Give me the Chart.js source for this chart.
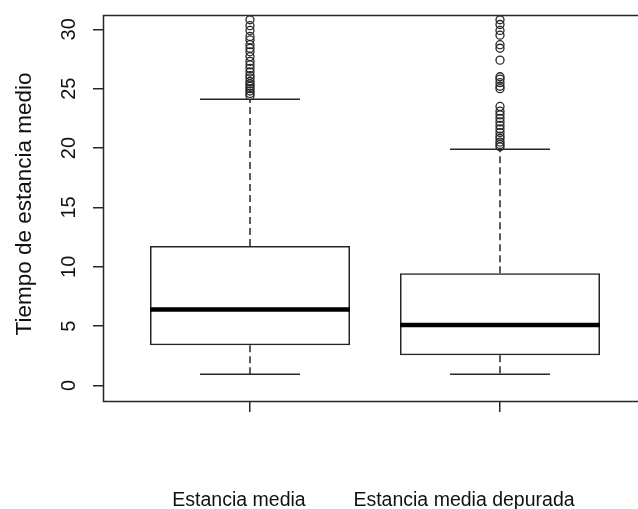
<!DOCTYPE html>
<html>
<head>
<meta charset="utf-8">
<script src="https://cdn.jsdelivr.net/npm/chart.js@4.4.1/dist/chart.umd.min.js"></script>
<style>
  html, body { margin: 0; padding: 0; background: #fff; overflow: hidden; }
  #wrap { width: 638px; height: 509px; overflow: hidden; }
</style>
</head>
<body>
<div id="wrap"><canvas id="boxplot" width="660" height="509"></canvas></div>
<script>
// Grupos y resumen de cinco números de cada caja
const categories = ['Estancia media', 'Estancia media depurada'];
const q1 = [3.4, 2.55];
const medians = [6.4, 5.1];
const q3 = [11.75, 9.45];
const whiskerLow = [0.95, 0.95];
const whiskerHigh = [24.1, 19.9];

// Valores atípicos de cada grupo
const outliersMedia = [24.4, 24.6, 24.8, 25.0, 25.2, 25.4, 25.6, 25.9, 26.1, 26.4, 26.7, 27.0, 27.3, 27.7,
    28.1, 28.4, 28.7, 29.1, 29.4, 29.9, 30.3, 30.8];
const outliersDepurada = [20.1, 20.3, 20.5, 20.8, 21.0, 21.3, 21.6, 21.9, 22.2, 22.5, 22.8, 23.1, 23.5,
    25.0, 25.2, 25.5, 25.8, 26.0, 27.4, 28.4, 28.7, 29.5, 29.9, 30.4, 30.8];

const yTicks = [0, 5, 10, 15, 20, 25, 30];

const boxWidth = 0.8;     // ancho de caja en unidades del eje x
const capWidth = 0.4;     // ancho de los extremos de bigote
const ink = '#262626';

// Une tramos [x1, y1, x2, y2] en una sola serie separada por huecos
function segments(list) {
    const pts = [];
    list.forEach(s => {
        pts.push({ x: s[0], y: s[1] }, { x: s[2], y: s[3] }, { x: s[2], y: null });
    });
    return pts;
}

const medianSegs = segments(medians.map((m, i) => [i + 1 - boxWidth / 2, m, i + 1 + boxWidth / 2, m]));
const whiskerSegs = segments([
    ...q3.map((v, i) => [i + 1, v, i + 1, whiskerHigh[i]]),
    ...q1.map((v, i) => [i + 1, v, i + 1, whiskerLow[i]])
]);
const capSegs = segments([
    ...whiskerHigh.map((v, i) => [i + 1 - capWidth / 2, v, i + 1 + capWidth / 2, v]),
    ...whiskerLow.map((v, i) => [i + 1 - capWidth / 2, v, i + 1 + capWidth / 2, v])
]);
const outlierPts = [
    ...outliersMedia.map(v => ({ x: 1, y: v })),
    ...outliersDepurada.map(v => ({ x: 2, y: v }))
];

const lineDefaults = {
    type: 'line',
    pointRadius: 0,
    fill: false,
    tension: 0,
    spanGaps: false,
    borderColor: ink,
    borderCapStyle: 'butt'
};

// Marco del gráfico y rótulos al estilo de R
const frameAndLabels = {
    id: 'frameAndLabels',
    afterDraw(chart) {
        const { ctx, chartArea: a, scales } = chart;
        ctx.save();
        ctx.strokeStyle = ink;
        ctx.lineWidth = 1.5;
        ctx.strokeRect(Math.round(a.left) + 0.5, Math.round(a.top) + 0.5,
            Math.round(a.right - a.left), Math.round(a.bottom - a.top));

        ctx.fillStyle = '#111';
        ctx.textAlign = 'center';
        ctx.textBaseline = 'middle';
        ctx.font = '20px "Liberation Sans", Arial, sans-serif';
        yTicks.forEach(v => {
            const y = scales.y.getPixelForValue(v);
            ctx.save();
            ctx.translate(69, y);
            ctx.rotate(-Math.PI / 2);
            ctx.fillText(String(v), 0, 0);
            ctx.restore();
        });

        ctx.save();
        ctx.translate(25, (a.top + a.bottom) / 2 - 4);
        ctx.rotate(-Math.PI / 2);
        ctx.font = '22.5px "Liberation Sans", Arial, sans-serif';
        ctx.fillText('Tiempo de estancia medio', 0, 0);
        ctx.restore();

        const shift = [-11, -36];
        ctx.textBaseline = 'alphabetic';
        ctx.font = '19.5px "Liberation Sans", Arial, sans-serif';
        categories.forEach((c, i) => {
            ctx.fillText(c, scales.x.getPixelForValue(i + 1) + shift[i], 506);
        });
        ctx.restore();
    }
};

new Chart(document.getElementById('boxplot'), {
    type: 'bar',
    data: {
        datasets: [
            {
                label: 'Caja',
                data: categories.map((c, i) => ({ x: i + 1, y: [q1[i], q3[i]] })),
                backgroundColor: 'rgba(0,0,0,0)',
                borderColor: ink,
                borderWidth: 1.5,
                borderSkipped: false,
                barPercentage: boxWidth,
                categoryPercentage: 1,
                order: 5
            },
            { ...lineDefaults, label: 'Mediana', data: medianSegs, borderColor: '#000', borderWidth: 4.5, order: 1 },
            { ...lineDefaults, label: 'Bigotes', data: whiskerSegs, borderWidth: 1.5, borderDash: [7, 4], order: 3 },
            { ...lineDefaults, label: 'Extremos', data: capSegs, borderWidth: 1.5, order: 2 },
            {
                type: 'scatter',
                label: 'Atípicos',
                data: outlierPts,
                pointStyle: 'circle',
                pointRadius: 4,
                pointBorderWidth: 1.3,
                pointBorderColor: ink,
                pointBackgroundColor: 'rgba(0,0,0,0)',
                showLine: false,
                order: 0
            }
        ]
    },
    options: {
        responsive: false,
        animation: false,
        layout: { padding: { top: 15, right: 13, left: 0, bottom: 0 } },
        plugins: { legend: { display: false }, tooltip: { enabled: false } },
        scales: {
            x: {
                type: 'linear',
                min: 0.412,
                max: 2.588,
                offset: false,
                afterBuildTicks: s => { s.ticks = categories.map((c, i) => ({ value: i + 1 })); },
                afterFit: s => { s.height = 108; },
                ticks: { display: false },
                border: { display: false },
                grid: { offset: false, drawOnChartArea: false, drawTicks: true, tickLength: 11, color: ink, lineWidth: 1.5 }
            },
            y: {
                type: 'linear',
                min: -1.3,
                max: 31.2,
                afterBuildTicks: s => { s.ticks = yTicks.map(v => ({ value: v })); },
                afterFit: s => { s.width = 103; },
                ticks: { display: false },
                border: { display: false },
                grid: { drawOnChartArea: false, drawTicks: true, tickLength: 10, color: ink, lineWidth: 1.5 }
            }
        }
    },
    plugins: [frameAndLabels]
});
</script>
</body>
</html>
